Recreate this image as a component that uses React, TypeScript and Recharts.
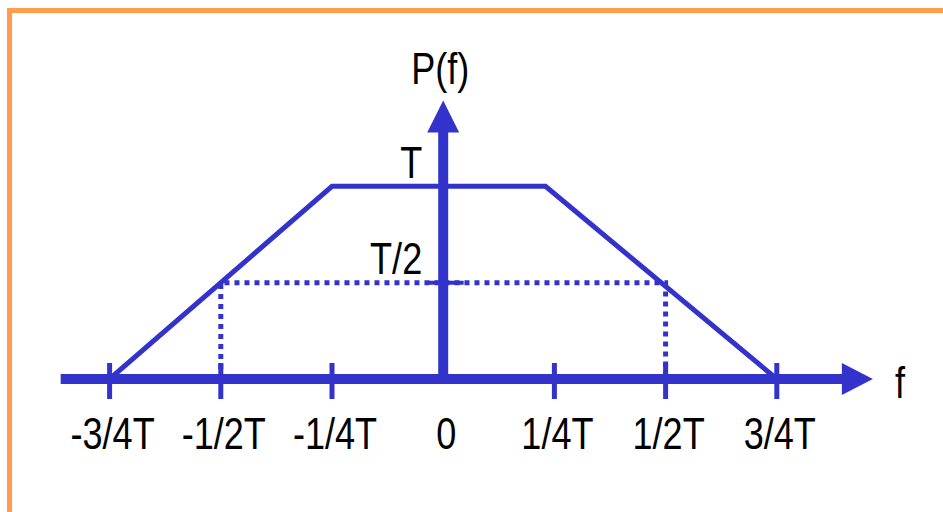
import React from 'react';
import { ComposedChart, Line, XAxis, YAxis, ReferenceLine, ReferenceDot } from 'recharts';

const BLUE = '#3333CC';
const ORANGE = '#FF9D4A';
const FONT = "'Liberation Sans', Arial, sans-serif";

// frequency in units of 1/T, power in units of T
const tickValues = [-0.75, -0.5, -0.25, 0, 0.25, 0.5, 0.75];
const tickLabels = ['-3/4T', '-1/2T', '-1/4T', '0', '1/4T', '1/2T', '3/4T'];

const spectrum = [
  { f: -0.75, p: 0 },
  { f: -0.25, p: 1 },
  { f: 0.23, p: 1 },
  { f: 0.75, p: 0 },
];

const halfPower = [
  { f: -0.5, p: 0 },
  { f: -0.5, p: 0.5 },
  { f: 0.5, p: 0.5 },
  { f: 0.5, p: 0 },
];

// narrow-looking text: Liberation Sans squeezed horizontally
const NarrowText = ({ x, y, anchor = 'start', children }: any) => (
  <text
    transform={`translate(${x},${y}) scale(0.82,1)`}
    x={0}
    y={0}
    textAnchor={anchor}
    fontSize={44}
    fontFamily={FONT}
    fill="#000"
  >
    {children}
  </text>
);

const FTick = (props: any) => {
  const { x, y, payload } = props;
  const idx = tickValues.indexOf(payload.value);
  return (
    <g>
      {payload.value !== 0 && (
        <line x1={x} x2={x} y1={y - 16} y2={y + 20} stroke={BLUE} strokeWidth={5} />
      )}
      <NarrowText x={x + 3} y={y + 70} anchor="middle">
        {tickLabels[idx]}
      </NarrowText>
    </g>
  );
};

export default function App() {
  return (
    <div style={{ position: 'absolute', left: 0, top: 0, width: 943, height: 512, background: '#fff', overflow: 'hidden' }}>
      <div
        style={{
          position: 'absolute',
          left: 7,
          top: 8,
          width: 960,
          height: 520,
          borderTop: `5px solid ${ORANGE}`,
          borderLeft: `5px solid ${ORANGE}`,
        }}
      />
      <div style={{ position: 'absolute', left: 0, top: 0 }}>
        <ComposedChart width={943} height={512} margin={{ top: 90, right: 55, bottom: 73, left: 54 }}>
          <XAxis
            type="number"
            dataKey="f"
            domain={[-0.875, 1]}
            ticks={tickValues}
            interval={0}
            axisLine={false}
            tickLine={false}
            tickSize={0}
            tickMargin={0}
            height={60}
            tick={<FTick />}
            allowDataOverflow
          />
          <YAxis type="number" dataKey="p" domain={[0, 1.5]} hide allowDataOverflow />
          <Line
            data={halfPower}
            dataKey="p"
            type="linear"
            stroke={BLUE}
            strokeWidth={5}
            strokeDasharray="5 5"
            dot={false}
            isAnimationActive={false}
          />
          <Line
            data={spectrum}
            dataKey="p"
            type="linear"
            stroke={BLUE}
            strokeWidth={5}
            dot={false}
            isAnimationActive={false}
          />
          <ReferenceLine
            segment={[{ x: -0.86, y: 0 }, { x: 0.9, y: 0 }]}
            stroke={BLUE}
            strokeWidth={10}
            ifOverflow="visible"
          />
          <ReferenceLine
            segment={[{ x: 0, y: 0 }, { x: 0, y: 1.3 }]}
            stroke={BLUE}
            strokeWidth={10}
            ifOverflow="visible"
          />
          <ReferenceLine
            segment={[{ x: -0.033, y: 0.5 }, { x: 0.046, y: 0.5 }]}
            stroke={BLUE}
            strokeWidth={4}
            ifOverflow="visible"
          />
          <ReferenceDot
            x={0.966}
            y={0}
            ifOverflow="visible"
            shape={(p: any) => (
              <g>
                <polygon
                  points={`${p.cx},${p.cy} ${p.cx - 31},${p.cy - 16} ${p.cx - 31},${p.cy + 16}`}
                  fill={BLUE}
                />
                <NarrowText x={p.cx + 22} y={p.cy + 19}>f</NarrowText>
              </g>
            )}
          />
          <ReferenceDot
            x={0}
            y={1.446}
            ifOverflow="visible"
            shape={(p: any) => (
              <g>
                <polygon
                  points={`${p.cx},${p.cy} ${p.cx - 16},${p.cy + 32} ${p.cx + 16},${p.cy + 32}`}
                  fill={BLUE}
                />
                <NarrowText x={p.cx - 3} y={p.cy - 16} anchor="middle">P(f)</NarrowText>
              </g>
            )}
          />
          <ReferenceDot
            x={0}
            y={1}
            ifOverflow="visible"
            shape={(p: any) => (
              <NarrowText x={p.cx - 21} y={p.cy - 8} anchor="end">T</NarrowText>
            )}
          />
          <ReferenceDot
            x={0}
            y={0.5}
            ifOverflow="visible"
            shape={(p: any) => (
              <NarrowText x={p.cx - 21} y={p.cy - 9} anchor="end">T/2</NarrowText>
            )}
          />
        </ComposedChart>
      </div>
    </div>
  );
}
